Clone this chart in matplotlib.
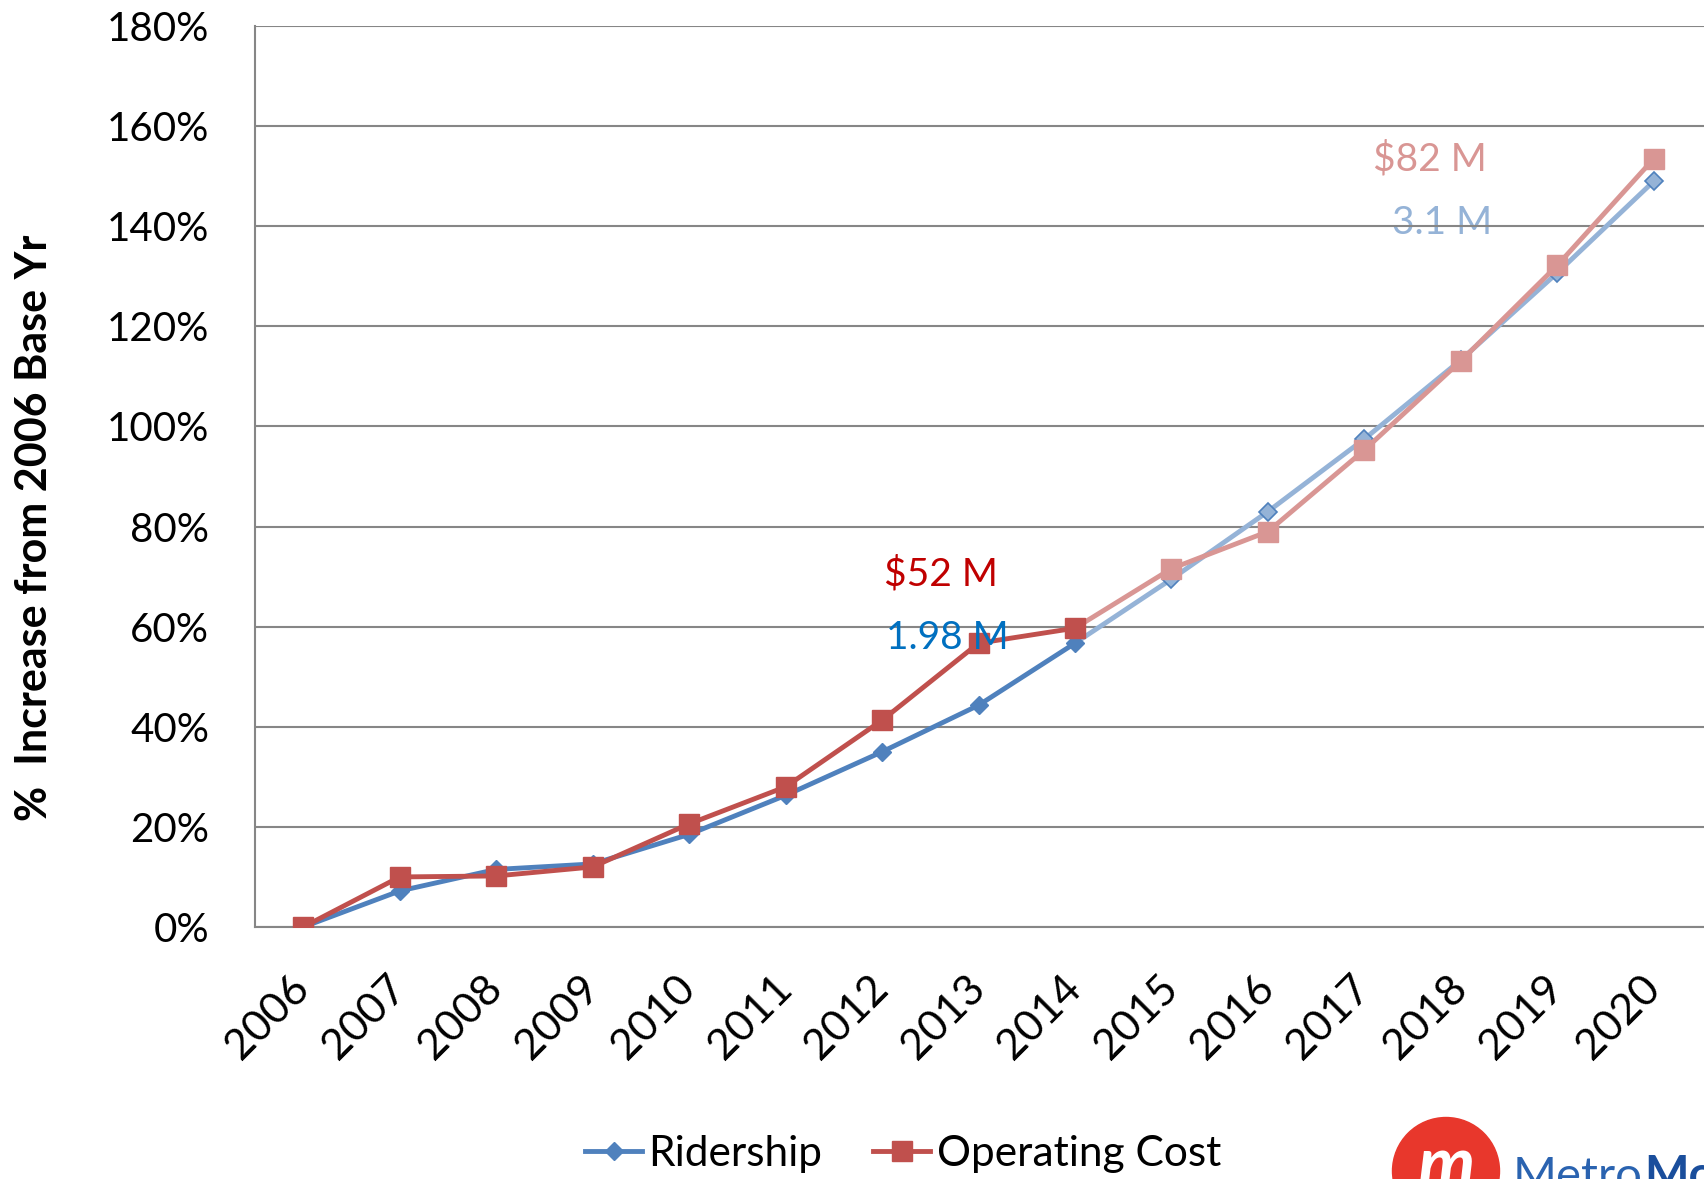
import matplotlib
matplotlib.use("Agg")
import matplotlib.pyplot as plt
from matplotlib.patches import Circle
from matplotlib.lines import Line2D

plt.rcParams['font.family'] = ['Lato', 'DejaVu Sans']

# data (% increase from 2006)
years = [2006, 2007, 2008, 2009, 2010, 2011, 2012, 2013, 2014,
         2015, 2016, 2017, 2018, 2019, 2020]
ridership = [0, 7.2, 11.5, 12.6, 18.5, 26.3, 35.0, 44.3, 56.7,
             69.5, 83.0, 97.5, 113.3, 130.7, 149.0]
op_cost = [0, 10.0, 10.2, 12.0, 20.6, 28.0, 41.3, 56.7, 59.7,
           71.6, 79.0, 95.3, 113.1, 132.2, 153.5]
n_actual = 9  # 2006-2014 actual, rest projected
yticks = [0, 20, 40, 60, 80, 100, 120, 140, 160, 180]

blue, red = '#4F81BD', '#C0504D'
blue_lt, red_lt = '#95B3D7', '#D99694'

W, H = 1704, 1179
fig = plt.figure(figsize=(W / 100, H / 100), dpi=100)
ax = fig.add_axes([255 / W, 1 - 927 / H, 1 - 255 / W, (927 - 26) / H])

# projections (light)
k = n_actual - 1
ax.plot(years[k:], ridership[k:], color=blue_lt, lw=3.5, zorder=2)
ax.plot(years[n_actual:], ridership[n_actual:], ls='none', marker='D', ms=9,
        mfc=blue_lt, mec=blue, mew=1.2, zorder=3)
ax.plot(years[k:], op_cost[k:], color=red_lt, lw=3.5, zorder=4)
ax.plot(years[n_actual:], op_cost[n_actual:], ls='none', marker='s', ms=14,
        mfc=red_lt, mec=red_lt, zorder=5)

# actuals
ax.plot(years[:n_actual], ridership[:n_actual], color=blue, lw=3.5,
        marker='D', ms=9, zorder=6)
ax.plot(years[:n_actual], op_cost[:n_actual], color=red, lw=3.5,
        marker='s', ms=14, zorder=7)

ax.set_xlim(2005.5, 2020.52)
ax.set_ylim(0, 180)
ax.set_yticks(yticks)
ax.set_yticklabels([f'{v}%' for v in yticks])
ax.set_xticks(years)
ax.set_xticklabels([str(y) for y in years], rotation=45, ha='right',
                   va='center', rotation_mode='anchor')
ax.tick_params(axis='y', length=0, pad=33, labelsize=29)
ax.tick_params(axis='x', length=0, pad=40, labelsize=31)
ax.grid(axis='y', color='#868686', lw=1.5, zorder=0)
for s in ['top', 'right']:
    ax.spines[s].set_visible(False)
for s in ['left', 'bottom']:
    ax.spines[s].set_color('#868686')
    ax.spines[s].set_linewidth(1.5)

ax.set_ylabel('%  Increase from 2006 Base Yr', fontsize=31, fontweight='bold')
ax.yaxis.set_label_coords(-0.139, 0.443)

# annotations
ax.text(2012.61, 70.5, '$52 M', color='#C00000', fontsize=28, ha='center', va='center', zorder=8)
ax.text(2012.68, 57.7, '1.98 M', color='#0070C0', fontsize=28, ha='center', va='center', zorder=8)
ax.text(2017.68, 153.4, '$82 M', color=red_lt, fontsize=28, ha='center', va='center', zorder=8)
ax.text(2017.80, 140.6, '3.1 M', color=blue_lt, fontsize=28, ha='center', va='center', zorder=1)

# legend
handles = [Line2D([], [], color=blue, lw=3.5, marker='D', ms=9),
           Line2D([], [], color=red, lw=3.5, marker='s', ms=14)]
fig.legend(handles, ['Ridership', 'Operating Cost'], loc='center',
           bbox_to_anchor=(903 / W, 1 - 1154 / H), ncol=2, frameon=False,
           fontsize=30.5, handlelength=1.35, handletextpad=0.15, columnspacing=1.2)

# logo (partially cut at bottom)
fig.add_artist(Circle((1446 / 100, (H - 1171) / 100), 0.535,
                      transform=fig.dpi_scale_trans, color='#E8372C'))
fig.text(1446 / W, 1 - 1168 / H, 'm', color='white', fontsize=52,
         fontweight='bold', style='italic', ha='center', va='center')
t1 = fig.text(1513 / W, 1 - 1190 / H, 'Metro', color='#2A63B0', fontsize=34,
              ha='left', va='baseline')
r = fig.canvas.get_renderer()
x_end = t1.get_window_extent(r).x1
fig.text(x_end / W + 0.001, 1 - 1190 / H, 'Mo', color='#1A4E9C', fontsize=34,
         fontweight='bold', ha='left', va='baseline')

fig.savefig('out.png', dpi=100)
